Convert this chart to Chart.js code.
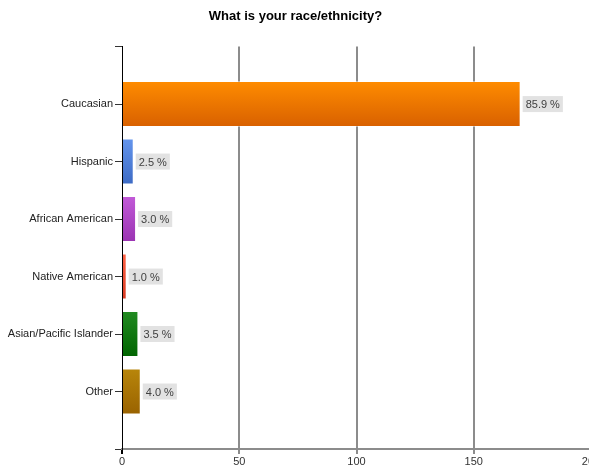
<!DOCTYPE html>
<html lang="en">
<head>
    <meta charset="UTF-8">
    <title>What is your race/ethnicity?</title>
    <script src="https://cdn.jsdelivr.net/npm/chart.js"></script>
    <style>
        html, body {
            margin: 0;
            padding: 0;
            background: #fff;
            overflow: hidden;
        }
        .wrap {
            position: absolute;
            left: 0;
            top: 0;
            width: 600px;
            height: 468px;
        }
    </style>
</head>
<body>
    <div class="wrap">
        <canvas id="raceChart" width="600" height="468"></canvas>
    </div>

    <script>
        // survey data
        const categories = ['Caucasian', 'Hispanic', 'African American', 'Native American', 'Asian/Pacific Islander', 'Other'];
        const counts = [170, 5, 6, 2, 7, 8];
        const percentLabels = ['85.9 %', '2.5 %', '3.0 %', '1.0 %', '3.5 %', '4.0 %'];
        const xTicks = [0, 50, 100, 150, 200];

        // gradient colours per bar (top -> bottom)
        const topColors = ['#ff8c00', '#6495ed', '#c25ad8', '#ff6347', '#228b22', '#b8860b'];
        const bottomColors = ['#d86000', '#3c6ac4', '#9a33b2', '#d83a22', '#006400', '#996200'];

        const labelFont = '11px "Liberation Sans", Arial, sans-serif';

        // paint each bar with a vertical gradient once its geometry is known
        const gradientBars = {
            id: 'gradientBars',
            beforeDatasetsDraw(chart) {
                const ctx = chart.ctx;
                chart.getDatasetMeta(0).data.forEach((el, i) => {
                    const top = el.y - el.height / 2;
                    const bottom = el.y + el.height / 2;
                    const g = ctx.createLinearGradient(0, top, 0, bottom);
                    g.addColorStop(0, topColors[i]);
                    g.addColorStop(1, bottomColors[i]);
                    el.options = Object.assign({}, el.options, { backgroundColor: g });
                });
            }
        };

        // grey boxes with the percentage next to each bar
        const valueBoxes = {
            id: 'valueBoxes',
            afterDatasetsDraw(chart) {
                const ctx = chart.ctx;
                ctx.save();
                ctx.font = labelFont;
                ctx.textBaseline = 'middle';
                chart.getDatasetMeta(0).data.forEach((el, i) => {
                    const text = percentLabels[i];
                    const w = ctx.measureText(text).width + 6;
                    const x = el.x + 2;
                    ctx.fillStyle = '#e2e2e2';
                    ctx.fillRect(x, el.y - 8, w, 16);
                    ctx.fillStyle = '#404040';
                    ctx.fillText(text, x + 3, el.y + 1);
                });
                ctx.restore();
            }
        };

        new Chart(document.getElementById('raceChart'), {
            type: 'bar',
            data: {
                datasets: [{
                    data: counts.map((v, i) => ({ x: v, y: i + 1 })),
                    backgroundColor: topColors,
                    borderColor: 'rgba(255,255,255,0.45)',
                    borderWidth: 1,
                    categoryPercentage: 1,
                    barPercentage: 0.8
                }]
            },
            options: {
                indexAxis: 'y',
                responsive: false,
                animation: false,
                layout: { padding: { left: 0, right: 9, top: 0, bottom: 0 } },
                plugins: {
                    legend: { display: false },
                    tooltip: { enabled: false },
                    title: {
                        display: true,
                        text: 'What is your race/ethnicity?',
                        color: '#000',
                        font: { family: '"Liberation Sans", Arial, sans-serif', size: 13, weight: 'bold' },
                        padding: { top: 9, bottom: 22 }
                    }
                },
                scales: {
                    x: {
                        type: 'linear',
                        min: xTicks[0],
                        max: xTicks[xTicks.length - 1],
                        afterBuildTicks: s => { s.ticks = xTicks.map(v => ({ value: v })); },
                        afterFit: s => { s.height = 19; s.paddingLeft = 0; s.paddingRight = 0; },
                        ticks: {
                            color: '#333',
                            padding: 1,
                            font: { family: '"Liberation Sans", Arial, sans-serif', size: 11 }
                        },
                        grid: {
                            color: c => (c.tick && c.tick.value === 0) ? 'rgba(0,0,0,0)' : '#8c8c8c',
                            tickColor: c => (c.tick && c.tick.value === 0) ? '#000' : '#8c8c8c',
                            lineWidth: 2,
                            tickLength: 5
                        },
                        border: { color: '#8c8c8c', width: 2 }
                    },
                    y: {
                        type: 'linear',
                        reverse: true,
                        offset: false,
                        min: 0,
                        max: categories.length + 1,
                        afterBuildTicks: s => {
                            s.ticks = [];
                            for (let v = 0; v <= categories.length + 1; v++) s.ticks.push({ value: v });
                        },
                        afterFit: s => { s.width = 122; s.paddingTop = 0; s.paddingBottom = 0; },
                        ticks: {
                            color: '#222',
                            padding: 2,
                            autoSkip: false,
                            font: { family: '"Liberation Sans", Arial, sans-serif', size: 11 },
                            callback: v => categories[v - 1] || ''
                        },
                        grid: {
                            offset: false,
                            drawOnChartArea: false,
                            tickColor: '#333',
                            tickLength: 7
                        },
                        border: { color: '#000', width: 1 }
                    }
                }
            },
            plugins: [gradientBars, valueBoxes]
        });
    </script>
</body>
</html>
